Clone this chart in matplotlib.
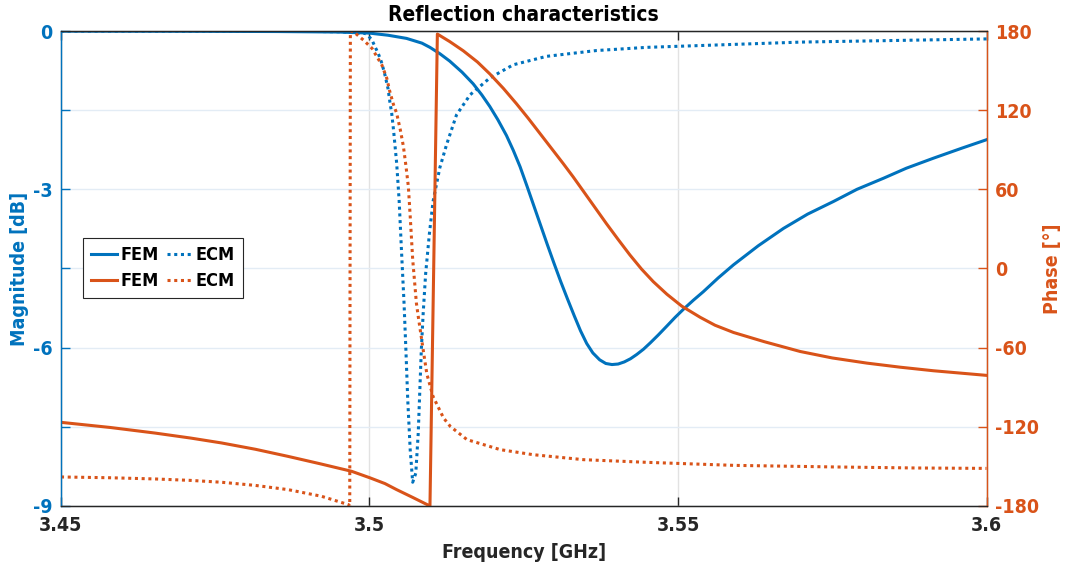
import numpy as np
import matplotlib
matplotlib.use("Agg")
import matplotlib.pyplot as plt
import matplotlib.font_manager as fm

# pick a condensed sans if one is installed
condensed = [f.name for f in fm.fontManager.ttflist if f.stretch == 'condensed' or 'Narrow' in f.name]
if 'DejaVu Sans' in condensed:
    plt.rcParams['font.family'] = ['DejaVu Sans']
    plt.rcParams['font.stretch'] = 'condensed'
elif 'Liberation Sans Narrow' in condensed:
    plt.rcParams['font.family'] = ['Liberation Sans Narrow', 'DejaVu Sans']
else:
    plt.rcParams['font.family'] = ['Liberation Sans', 'DejaVu Sans']
plt.rcParams['font.weight'] = 'bold'
plt.rcParams['axes.unicode_minus'] = False

# FEM magnitude (dB)
fem_mag_f = [3.450, 3.470, 3.485, 3.495, 3.500, 3.503, 3.506, 3.5085, 3.5098, 3.5114,
             3.5130, 3.5150, 3.5168, 3.5182, 3.5195, 3.5208, 3.5222, 3.5233, 3.5244,
             3.5255, 3.5266, 3.5277, 3.5288, 3.5299, 3.5310, 3.5321, 3.5332, 3.5342,
             3.5352, 3.5362, 3.5373, 3.5383, 3.5393, 3.5403, 3.5413, 3.5423, 3.5433,
             3.5444, 3.5455, 3.5468, 3.5482, 3.5495, 3.5509, 3.5525, 3.5541, 3.5565,
             3.5590, 3.5630, 3.5671, 3.5710, 3.5752, 3.5790, 3.5833, 3.5870, 3.5914,
             3.5960, 3.6000]
fem_mag = [-0.002, -0.005, -0.01, -0.02, -0.04, -0.08, -0.14, -0.23, -0.31, -0.43,
           -0.57, -0.78, -1.00, -1.21, -1.43, -1.68, -1.98, -2.26, -2.57,
           -2.93, -3.30, -3.67, -4.04, -4.40, -4.75, -5.08, -5.40, -5.68,
           -5.92, -6.10, -6.23, -6.30, -6.32, -6.31, -6.27, -6.21, -6.13,
           -6.03, -5.91, -5.76, -5.59, -5.43, -5.27, -5.10, -4.94, -4.68,
           -4.43, -4.07, -3.74, -3.47, -3.23, -3.00, -2.79, -2.60, -2.41,
           -2.22, -2.06]

# ECM magnitude (dB)
ecm_mag_f = [3.450, 3.480, 3.490, 3.495, 3.4975, 3.4995, 3.5004, 3.5009, 3.5014, 3.5020,
             3.5025, 3.5030, 3.5033, 3.5036, 3.5039, 3.5044, 3.5048, 3.5052, 3.5056,
             3.5059, 3.5062, 3.5066, 3.5070, 3.5075, 3.5079, 3.5082, 3.5084, 3.5087,
             3.5091, 3.5097, 3.5103, 3.5114, 3.5125, 3.5141, 3.5163, 3.5195, 3.5233,
             3.5287, 3.5368, 3.5449, 3.5550, 3.5700, 3.5850, 3.6000]
ecm_mag = [0.0, -0.002, -0.006, -0.015, -0.03, -0.05, -0.17, -0.30, -0.42, -0.61,
           -0.83, -1.09, -1.34, -1.56, -1.88, -2.50, -3.20, -4.20, -5.16,
           -6.04, -6.99, -7.94, -8.55, -8.38, -7.62, -6.67, -6.04, -5.35,
           -4.60, -3.85, -3.23, -2.59, -2.15, -1.59, -1.21, -0.89, -0.64,
           -0.48, -0.37, -0.31, -0.27, -0.21, -0.18, -0.15]

# FEM phase (deg)
fem_ph_f = [3.450, 3.458, 3.4652, 3.471, 3.476, 3.4815, 3.4868, 3.492, 3.4971, 3.5001,
            3.5025, 3.5044, 3.5070, 3.5098, 3.5110, 3.5130, 3.5152, 3.5175, 3.5195,
            3.5217, 3.5238, 3.5257, 3.5276, 3.5295, 3.5314, 3.5330, 3.5346, 3.5365,
            3.5384, 3.5403, 3.5422, 3.5441, 3.5460, 3.5482, 3.5506, 3.5536, 3.5560,
            3.5590, 3.5640, 3.5698, 3.5750, 3.5806, 3.5860, 3.5914, 3.6000]
fem_ph = [-116.6, -120.5, -124.7, -128.5, -132.2, -137.0, -142.4, -148.0, -153.7, -158.7,
          -163.0, -167.6, -173.5, -180.0, 177.7, 172.0, 165.0, 156.5, 147.5,
          136.5, 125.0, 114.0, 102.5, 91.0, 79.5, 69.5, 59.0, 46.5,
          34.0, 22.0, 10.3, -0.5, -10.0, -19.5, -28.5, -37.0, -43.0,
          -48.5, -55.5, -62.9, -67.8, -71.7, -74.8, -77.5, -81.0]

# ECM phase (deg)
ecm_ph_f = [3.450, 3.458, 3.4652, 3.471, 3.476, 3.4815, 3.4868, 3.4922, 3.4966, 3.4968,
            3.4969, 3.4974, 3.4990, 3.5004, 3.5012, 3.5020, 3.5028, 3.5033, 3.5039,
            3.5044, 3.5050, 3.5055, 3.5059, 3.5063, 3.5066, 3.5070, 3.5076, 3.5079,
            3.5083, 3.5087, 3.5093, 3.5103, 3.5120, 3.5131, 3.5158, 3.5212, 3.5265,
            3.5347, 3.5449, 3.5590, 3.5752, 3.5887, 3.6000]
ecm_ph = [-158.0, -158.6, -159.5, -160.6, -162.0, -164.4, -167.6, -172.6, -179.0, -180.0,
          180.0, 179.5, 173.2, 166.9, 160.5, 154.3, 144.2, 134.0, 124.0,
          117.7, 105.0, 92.4, 78.0, 62.1, 39.4, 7.0, -26.2, -36.3,
          -48.9, -61.6, -80.0, -97.0, -113.3, -119.7, -129.7, -137.3, -141.1,
          -144.9, -146.9, -149.2, -150.4, -151.2, -151.5]

blue = '#0072BD'
orange = '#D95319'
dark = '#262626'
dots = (0, (1, 1.2))

fig = plt.figure(figsize=(10.68, 5.72), dpi=100)
ax = fig.add_axes([0.0571, 0.1154, 0.8666, 0.8304])
ax2 = ax.twinx()

l1, = ax.plot(fem_mag_f, fem_mag, color=blue, lw=2.2, label='FEM')
l2, = ax.plot(ecm_mag_f, ecm_mag, color=blue, lw=2.2, ls=dots, label='ECM')
l3, = ax2.plot(fem_ph_f, fem_ph, color=orange, lw=2.2, label='FEM')
l4, = ax2.plot(ecm_ph_f, ecm_ph, color=orange, lw=2.2, ls=dots, label='ECM')

ax.set_xlim(3.45, 3.6)
ax.set_ylim(-9, 0)
ax2.set_ylim(-180, 180)

ax.set_xticks([3.45, 3.5, 3.55, 3.6])
ax.set_xticklabels(['3.45', '3.5', '3.55', '3.6'])
ax.set_yticks(np.arange(-9, 0.01, 1.5))
ax.set_yticklabels(['-9', '', '-6', '', '-3', '', '0'])
ax2.set_yticks(np.arange(-180, 181, 60))

ax.grid(True, axis='x', color='#e2e2e2', lw=1)
ax.grid(True, axis='y', color='#e3ecf5', lw=1)
ax.set_axisbelow(True)

ax.tick_params(axis='x', direction='in', length=6.5, width=1, colors=dark,
               labelsize=14, pad=7, top=True)
ax.tick_params(axis='y', direction='in', length=6.5, width=1, colors=blue,
               labelsize=14, pad=6)
ax2.tick_params(axis='y', direction='in', length=6.5, width=1, colors=orange,
                labelsize=14, pad=6)

for sp in ['top', 'bottom']:
    ax2.spines[sp].set_color(dark)
ax2.spines['left'].set_color(blue)
ax2.spines['right'].set_color(orange)
for sp in ax2.spines.values():
    sp.set_linewidth(1)

ax.set_xlabel('Frequency [GHz]', fontsize=14, color=dark, fontweight='bold', labelpad=6)
ax.set_ylabel('Magnitude [dB]', fontsize=14, color=blue, fontweight='bold', labelpad=3)
ax2.set_ylabel('Phase [°]', fontsize=14, color=orange, fontweight='bold', labelpad=3)
ax.set_title('Reflection characteristics', fontsize=15, color='black',
             fontweight='bold', pad=7)

leg = ax2.legend([l1, l3, l2, l4], ['FEM', 'FEM', 'ECM', 'ECM'], ncol=2,
                 loc='upper left', bbox_to_anchor=(0.024, 0.564), borderaxespad=0,
                 prop={'weight': 'bold', 'size': 13}, frameon=True, fancybox=False,
                 edgecolor=dark, framealpha=1, handlelength=1.4, handletextpad=0.2,
                 columnspacing=0.45, labelspacing=0.45, borderpad=0.45)
leg.get_frame().set_linewidth(0.8)

fig.savefig('out.png', dpi=100)
